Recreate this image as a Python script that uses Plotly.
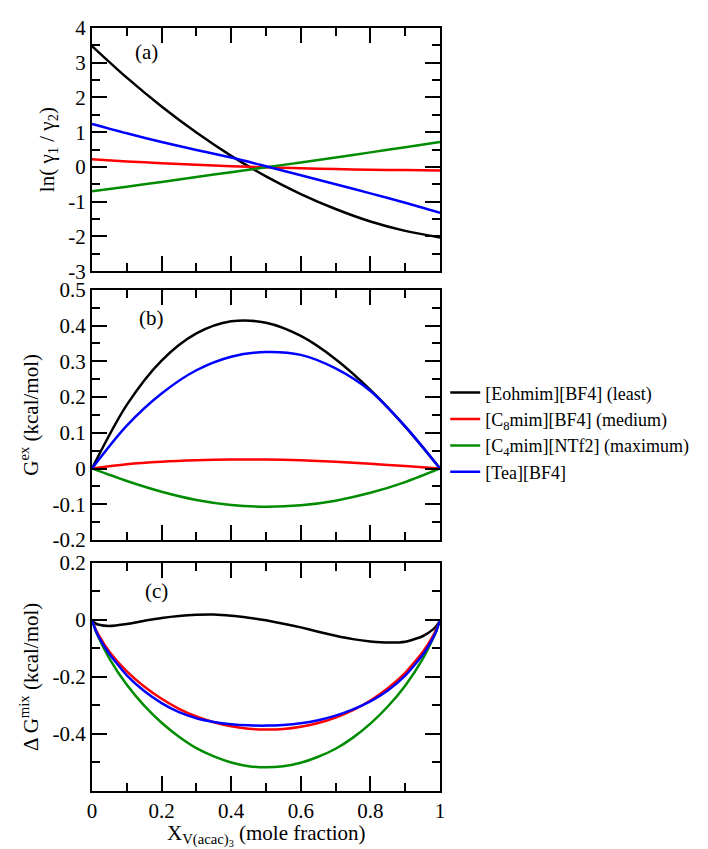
import plotly.graph_objects as go

# ---------------- data ----------------
names = ["[Eohmim][BF4] (least)", "[C<sub>8</sub>mim][BF4] (medium)",
         "[C<sub>4</sub>mim][NTf2] (maximum)", "[Tea][BF4]"]
colors = ["#000000", "#ff0000", "#008c00", "#0000ff"]

# panel (a): ln(gamma1/gamma2)
xa = [0, 0.1, 0.2, 0.3, 0.4, 0.5, 0.6, 0.7, 0.8, 0.9, 1.0]
a_eoh = [3.48, 2.57, 1.74, 0.99, 0.32, -0.27, -0.78, -1.21, -1.57, -1.84, -2.03]
a_c8 = [0.22, 0.16, 0.11, 0.06, 0.02, -0.01, -0.04, -0.06, -0.08, -0.09, -0.10]
a_c4 = [-0.70, -0.57, -0.43, -0.29, -0.15, -0.01, 0.13, 0.27, 0.42, 0.57, 0.72]
a_tea = [1.24, 0.97, 0.72, 0.49, 0.27, 0.02, -0.24, -0.50, -0.76, -1.03, -1.32]

# panel (b): G^ex (kcal/mol)
xb = [0, 0.1, 0.2, 0.3, 0.4, 0.5, 0.6, 0.7, 0.8, 0.9, 1.0]
b_eoh = [0, 0.178, 0.302, 0.378, 0.412, 0.408, 0.371, 0.306, 0.220, 0.117, 0]
b_c8 = [0, 0.012, 0.019, 0.023, 0.025, 0.025, 0.023, 0.019, 0.013, 0.007, 0]
b_c4 = [0, -0.035, -0.065, -0.088, -0.102, -0.107, -0.103, -0.090, -0.068, -0.038, 0]
b_tea = [0, 0.120, 0.210, 0.275, 0.313, 0.326, 0.318, 0.280, 0.217, 0.118, 0]

# panel (c): Delta G^mix (kcal/mol)
xc = [0.001, 0.01, 0.02, 0.05, 0.1, 0.15, 0.2, 0.25, 0.3, 0.35, 0.4, 0.45, 0.5,
      0.55, 0.6, 0.65, 0.7, 0.75, 0.8, 0.85, 0.9, 0.95, 0.98, 0.99, 0.999]
c_eoh = [-0.003, -0.013, -0.018, -0.022, -0.015, -0.004, 0.006, 0.013, 0.017, 0.018,
         0.014, 0.007, -0.002, -0.014, -0.027, -0.042, -0.056, -0.068, -0.076, -0.080,
         -0.077, -0.058, -0.034, -0.021, -0.006]
c_c8 = [-0.004, -0.032, -0.056, -0.112, -0.181, -0.234, -0.277, -0.312, -0.339, -0.359,
        -0.373, -0.382, -0.385, -0.383, -0.375, -0.362, -0.343, -0.317, -0.283, -0.240,
        -0.186, -0.114, -0.057, -0.032, -0.004]
c_c4 = [-0.005, -0.037, -0.065, -0.136, -0.228, -0.301, -0.361, -0.410, -0.450, -0.479,
        -0.500, -0.513, -0.517, -0.513, -0.501, -0.480, -0.452, -0.413, -0.364, -0.304,
        -0.231, -0.138, -0.066, -0.037, -0.005]
c_tea = [-0.005, -0.036, -0.062, -0.120, -0.195, -0.250, -0.292, -0.324, -0.345, -0.358,
         -0.366, -0.370, -0.371, -0.369, -0.363, -0.352, -0.336, -0.314, -0.286, -0.248,
         -0.196, -0.124, -0.064, -0.038, -0.005]

x_ticks = [0, 0.2, 0.4, 0.6, 0.8, 1.0]
x_ticktext = ["0", "0.2", "0.4", "0.6", "0.8", "1"]
ya_ticks = [-3, -2, -1, 0, 1, 2, 3, 4]
ya_text = ["-3", "-2", "-1", "0", "1", "2", "3", "4"]
yb_ticks = [-0.2, -0.1, 0, 0.1, 0.2, 0.3, 0.4, 0.5]
yb_text = ["-0.2", "-0.1", "0", "0.1", "0.2", "0.3", "0.4", "0.5"]
yc_ticks = [-0.6, -0.4, -0.2, 0, 0.2]
yc_text = ["", "-0.4", "-0.2", "0", "0.2"]

panels = [
    ("x", "y", xa, [a_eoh, a_c8, a_c4, a_tea], 0.9),
    ("x2", "y2", xb, [b_eoh, b_c8, b_c4, b_tea], 0.9),
    ("x3", "y3", xc, [c_eoh, c_c8, c_c4, c_tea], 0.5),
]

fig = go.Figure()
for pi, (xax, yax, xs, series, sm) in enumerate(panels):
    for si, ys in enumerate(series):
        fig.add_trace(go.Scatter(
            x=xs, y=ys, mode="lines", xaxis=xax, yaxis=yax,
            line=dict(color=colors[si], width=2.5, shape="spline", smoothing=sm),
            name=names[si], showlegend=(pi == 1), legendrank=si + 1,
        ))

FONT = "Liberation Serif, Times New Roman, Times, serif"
H = 849
bottom_px = 783
plot_h = 775


def dom(top_px, bot_px):
    return [(bottom_px - bot_px) / plot_h, (bottom_px - top_px) / plot_h]


common_x = dict(range=[0, 1], showline=True, linecolor="black", linewidth=2, mirror="allticks",
                ticks="inside", ticklen=15, tickwidth=2, tickcolor="black",
                tickvals=x_ticks, ticktext=x_ticktext, showgrid=False, zeroline=False,
                minor=dict(ticks="inside", dtick=0.1, tick0=0, ticklen=8, tickwidth=2,
                           tickcolor="black", showgrid=False),
                tickfont=dict(family=FONT, size=21, color="black"))
common_y = dict(showline=True, linecolor="black", linewidth=2, mirror="allticks",
                ticks="inside", ticklen=15, tickwidth=2, tickcolor="black",
                showgrid=False, zeroline=False,
                tickfont=dict(family=FONT, size=21, color="black"),
                title_font=dict(family=FONT, size=21, color="black"))

fig.update_layout(
    width=708, height=H,
    paper_bgcolor="white", plot_bgcolor="white",
    margin=dict(l=84, r=276, t=8, b=66),
    font=dict(family=FONT, size=21, color="black"),
    xaxis=dict(common_x, domain=[0, 1], anchor="y", showticklabels=False),
    xaxis2=dict(common_x, domain=[0, 1], anchor="y2", showticklabels=False),
    xaxis3=dict(common_x, domain=[0, 1], anchor="y3", showticklabels=True),
    yaxis=dict(common_y, domain=dom(8, 255), anchor="x", range=[-3, 4],
               tickvals=ya_ticks, ticktext=ya_text,
               minor=dict(ticks="inside", dtick=0.5, tick0=0, ticklen=8, tickwidth=2,
                          tickcolor="black", showgrid=False),
               title=dict(text="ln( γ<sub>1</sub> / γ<sub>2</sub>)", standoff=8)),
    yaxis2=dict(common_y, domain=dom(274, 528), anchor="x2", range=[-0.2, 0.5],
                tickvals=yb_ticks, ticktext=yb_text,
                minor=dict(ticks="inside", dtick=0.05, tick0=0, ticklen=8, tickwidth=2,
                           tickcolor="black", showgrid=False),
                title=dict(text="G<sup>ex</sup> (kcal/mol)", standoff=8)),
    yaxis3=dict(common_y, domain=dom(551, 783), anchor="x3", range=[-0.6, 0.2],
                tickvals=yc_ticks, ticktext=yc_text,
                minor=dict(ticks="inside", dtick=0.1, tick0=0, ticklen=8, tickwidth=2,
                           tickcolor="black", showgrid=False),
                title=dict(text="Δ G<sup>mix</sup> (kcal/mol)", standoff=8)),
    legend=dict(x=1.015, y=0.47, xanchor="left", yanchor="middle",
                font=dict(family=FONT, size=18, color="black"),
                bgcolor="rgba(0,0,0,0)", borderwidth=0, tracegroupgap=0,
                itemwidth=30),
    annotations=[
        dict(text="(a)", x=0.158, y=3.32, xref="x", yref="y", showarrow=False,
             font=dict(family=FONT, size=21, color="black")),
        dict(text="(b)", x=0.17, y=0.42, xref="x2", yref="y2", showarrow=False,
             font=dict(family=FONT, size=21, color="black")),
        dict(text="(c)", x=0.185, y=0.10, xref="x3", yref="y3", showarrow=False,
             font=dict(family=FONT, size=21, color="black")),
        dict(text="X<sub>V(acac)<sub>3</sub></sub> (mole fraction)",
             x=0.5, y=-0.037, xref="paper", yref="paper", xanchor="center", yanchor="top",
             showarrow=False, font=dict(family=FONT, size=21, color="black")),
    ],
)

fig.write_html("out.html")
